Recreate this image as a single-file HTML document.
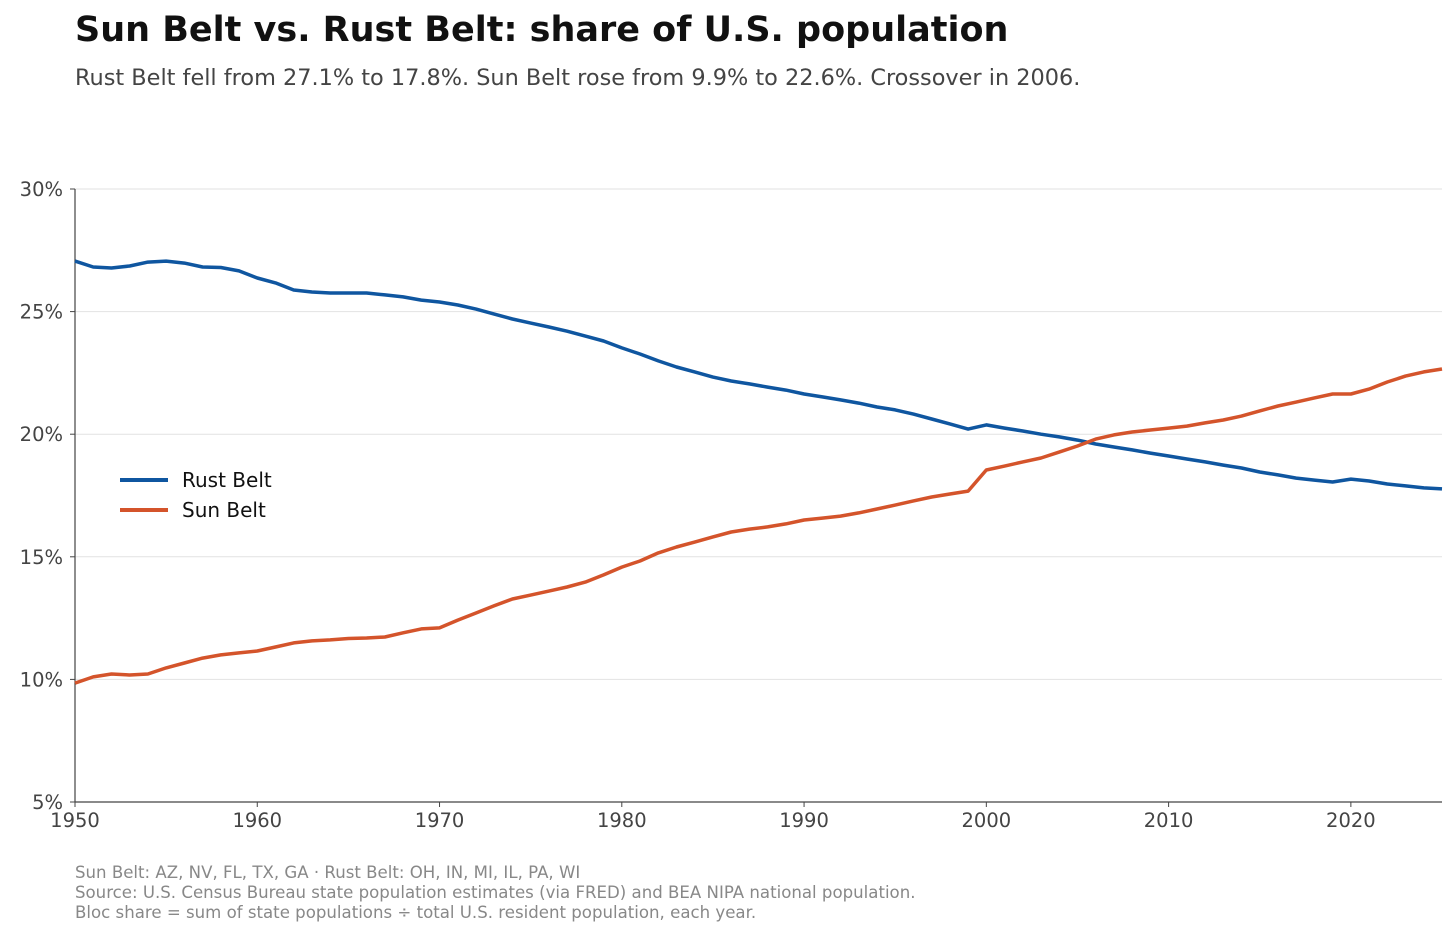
<!DOCTYPE html>
<html><head><meta charset="utf-8">
<style>
body{margin:0;background:#fff;font-family:"DejaVu Sans","Liberation Sans",sans-serif;}
svg{display:block}
</style></head>
<body>
<svg id="chart" width="1456" height="935" xmlns="http://www.w3.org/2000/svg" font-family="DejaVu Sans, Liberation Sans, sans-serif">
<text x="75" y="41" font-size="35" font-weight="bold" fill="#111">Sun Belt vs. Rust Belt: share of U.S. population</text>
<text x="75" y="85" font-size="22.4" fill="#444">Rust Belt fell from 27.1% to 17.8%. Sun Belt rose from 9.9% to 22.6%. Crossover in 2006.</text>
<g id="grid"></g>
<g id="yticks"></g>
<g id="xticks"></g>
<g id="lines"></g>
<g>
<line x1="120" y1="480" x2="168" y2="480" stroke="#0f56a0" stroke-width="4"/>
<text x="182" y="487" font-size="20" fill="#111">Rust Belt</text>
<line x1="120" y1="510" x2="168" y2="510" stroke="#d4542b" stroke-width="4"/>
<text x="182" y="517" font-size="20" fill="#111">Sun Belt</text>
</g>
<g font-size="16.6" fill="#888">
<text x="75" y="878">Sun Belt: AZ, NV, FL, TX, GA  ·  Rust Belt: OH, IN, MI, IL, PA, WI</text>
<text x="75" y="898">Source: U.S. Census Bureau state population estimates (via FRED) and BEA NIPA national population.</text>
<text x="75" y="918">Bloc share = sum of state populations ÷ total U.S. resident population, each year.</text>
</g>
</svg>
<script>
const startYear = 1950;
const rustBelt = [27.06,26.82,26.78,26.86,27.02,27.06,26.98,26.82,26.8,26.66,26.37,26.17,25.88,25.8,25.76,25.76,25.76,25.68,25.6,25.47,25.39,25.27,25.1,24.9,24.7,24.53,24.37,24.2,24.0,23.8,23.52,23.27,22.99,22.74,22.54,22.33,22.17,22.05,21.92,21.8,21.64,21.52,21.4,21.27,21.11,20.99,20.82,20.62,20.42,20.21,20.38,20.25,20.13,20.0,19.89,19.76,19.6,19.48,19.36,19.23,19.11,18.99,18.87,18.74,18.62,18.46,18.34,18.21,18.13,18.05,18.17,18.09,17.97,17.89,17.81,17.77];
const sunBelt = [9.85,10.1,10.22,10.18,10.22,10.47,10.67,10.87,11.0,11.08,11.16,11.32,11.49,11.57,11.61,11.67,11.69,11.73,11.9,12.06,12.1,12.42,12.71,13.0,13.28,13.44,13.6,13.77,13.97,14.26,14.58,14.83,15.16,15.4,15.6,15.81,16.01,16.13,16.22,16.34,16.5,16.58,16.66,16.79,16.95,17.11,17.28,17.44,17.56,17.68,18.54,18.7,18.87,19.03,19.27,19.52,19.8,19.97,20.09,20.17,20.25,20.33,20.46,20.58,20.74,20.95,21.15,21.31,21.48,21.64,21.64,21.84,22.13,22.37,22.54,22.66];
const yTicks = [5,10,15,20,25,30];
const xTicks = [1950,1960,1970,1980,1990,2000,2010,2020];

const NS="http://www.w3.org/2000/svg";
const L=75,R=1442,T=189,B=802;
const x=yr=>L+(yr-1950)/(2025-1950)*(R-L);
const y=v=>B-(v-5)/(30-5)*(B-T);
function mk(tag,attrs,parent){const e=document.createElementNS(NS,tag);for(const k in attrs)e.setAttribute(k,attrs[k]);parent.appendChild(e);return e;}
const grid=document.getElementById('grid'),yg=document.getElementById('yticks'),xg=document.getElementById('xticks'),lg=document.getElementById('lines');
yTicks.forEach(v=>{
  if(v>5){const g=mk('line',{x1:L,x2:R,y1:y(v),y2:y(v),stroke:'#e2e2e2','stroke-width':1},grid);
  
  }
  const t=mk('line',{x1:L-5,x2:L,y1:y(v),y2:y(v),stroke:'#444'},yg);
  
  
  const lb=mk('text',{x:L-12,y:y(v)+7,'text-anchor':'end','font-size':19.5,fill:'#444'},yg);
  
  
  lb.textContent=v+'%';
});
xTicks.forEach(yr=>{
  const t=mk('line',{x1:x(yr),x2:x(yr),y1:B,y2:B+5,stroke:'#444'},xg);
  
  
  const lb=mk('text',{x:x(yr),y:B+25,'text-anchor':'middle','font-size':19.5,fill:'#444'},xg);
  
  
  lb.textContent=yr;
});
const ya=mk('line',{x1:L,x2:L,y1:T,y2:B,stroke:'#444','stroke-width':1.2},yg);


const xa=mk('line',{x1:L,x2:R,y1:B,y2:B,stroke:'#444','stroke-width':1.2},xg);


function series(arr,color,name){
  const d=arr.map((v,i)=>(i?'L':'M')+x(startYear+i).toFixed(1)+','+y(v).toFixed(1)).join('');
  const p=mk('path',{d:d,fill:'none',stroke:color,'stroke-width':3.5,'stroke-linejoin':'round'},lg);
  
  
}
series(rustBelt,'#0f56a0','rust-belt-line');
series(sunBelt,'#d4542b','sun-belt-line');
</script>
</body></html>
